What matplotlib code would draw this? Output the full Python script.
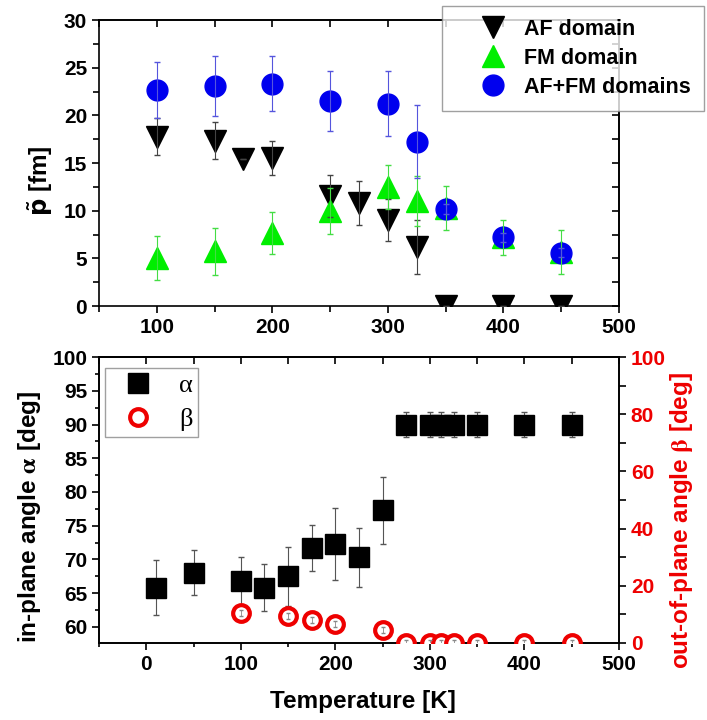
import numpy as np
import matplotlib.pyplot as plt
from matplotlib.ticker import MultipleLocator

plt.rcParams['font.family'] = ['Liberation Sans', 'DejaVu Sans']
plt.rcParams['font.weight'] = 'bold'
plt.rcParams['axes.labelweight'] = 'bold'
plt.rcParams['mathtext.fontset'] = 'stix'

# --- top panel: p~ [fm] vs temperature
t_af = [100, 150, 175, 200, 250, 275, 300, 325, 350, 400, 450]
p_af = [17.75, 17.35, 15.4, 15.5, 11.5, 10.8, 9.0, 6.2, 0, 0, 0]
e_af = [1.95, 1.95, 0, 1.8, 2.2, 2.3, 2.2, 2.8, 0, 0, 0]

t_fm = [100, 150, 200, 250, 300, 325, 350, 400, 450]
p_fm = [5.0, 5.75, 7.7, 10.0, 12.5, 11.0, 10.3, 7.2, 5.7]
e_fm = [2.3, 2.45, 2.2, 2.4, 2.3, 2.65, 2.3, 1.8, 2.3]

t_both = [100, 150, 200, 250, 300, 325, 350, 400, 450]
p_both = [22.65, 23.05, 23.35, 21.55, 21.25, 17.25, 10.2, 7.2, 5.6]
e_both = [2.95, 3.15, 2.85, 3.15, 3.45, 3.85, 0.5, 0.5, 0.5]

# --- bottom panel: angles vs temperature
t_a = [10, 50, 100, 125, 150, 175, 200, 225, 250, 275, 300, 312, 325, 350, 400, 450]
alpha = [65.8, 68.0, 66.8, 65.8, 67.5, 71.7, 72.3, 70.3, 77.25, 90, 90, 90, 90, 90, 90, 90]
e_alpha = [4.1, 3.35, 3.5, 3.5, 4.4, 3.4, 5.3, 4.4, 5.0, 1.9, 1.9, 1.9, 1.9, 1.9, 1.9, 1.9]

t_b = [100, 150, 175, 200, 250, 275, 300, 312, 325, 350, 400, 450]
beta = [10.5, 9.4, 8.0, 6.6, 4.5, 0, 0, 0, 0, 0, 0, 0]
e_beta = [1.0] * len(t_b)

fig = plt.figure(figsize=(7.07, 7.2), dpi=100)
ax1 = fig.add_axes([0.140, 0.575, 0.7355, 0.397])
ax2 = fig.add_axes([0.140, 0.107, 0.7355, 0.397])

lw = 1.2


def bold_ticks(ax):
    for lbl in ax.get_xticklabels() + ax.get_yticklabels():
        lbl.set_fontweight('bold')


# top
ax1.errorbar(t_af, p_af, yerr=e_af, fmt='none', ecolor='#444444', elinewidth=0.8, capsize=2.5, zorder=4)
ax1.errorbar(t_fm, p_fm, yerr=e_fm, fmt='none', ecolor='#44dd44', elinewidth=0.8, capsize=2.5, zorder=4)
ax1.errorbar(t_both, p_both, yerr=e_both, fmt='none', ecolor='#5555dd', elinewidth=0.8, capsize=2.5, zorder=4)
h1, = ax1.plot(t_af, p_af, 'v', color='black', ms=16, ls='none', label='AF domain', zorder=3)
h2, = ax1.plot(t_fm, p_fm, '^', color='#00ee00', ms=16, ls='none', label='FM domain', zorder=3)
h3, = ax1.plot(t_both, p_both, 'o', color='#0000ee', ms=15, ls='none', label='AF+FM domains', zorder=3)

ax1.set_xlim(50, 500)
ax1.set_ylim(0, 30)
ax1.xaxis.set_major_locator(MultipleLocator(100))
ax1.xaxis.set_minor_locator(MultipleLocator(50))
ax1.yaxis.set_major_locator(MultipleLocator(5))
ax1.yaxis.set_minor_locator(MultipleLocator(2.5))
ax1.tick_params(which='both', direction='out', width=lw, labelsize=15)
ax1.tick_params(which='major', length=5)
ax1.tick_params(which='minor', length=4)
bold_ticks(ax1)
for s in ax1.spines.values():
    s.set_linewidth(lw)
top1 = ax1.secondary_xaxis('top')
top1.xaxis.set_major_locator(MultipleLocator(50))
top1.tick_params(direction='in', labeltop=False, length=5, width=lw)
top1.spines['top'].set_linewidth(lw)
right1 = ax1.secondary_yaxis('right')
right1.yaxis.set_major_locator(MultipleLocator(2.5))
right1.tick_params(direction='in', labelright=False, length=5, width=lw)
right1.spines['right'].set_linewidth(lw)

ax1.set_ylabel(r'$\mathbf{\tilde{p}}$ [fm]', fontsize=17.5, math_fontfamily='dejavusans')
ax1.yaxis.set_label_coords(-0.085, 0.44)

leg1 = ax1.legend(handles=[h1, h2, h3], loc='upper left', bbox_to_anchor=(442 / 707, 1 - 6 / 720),
                  bbox_transform=fig.transFigure, borderaxespad=0, fancybox=False,
                  edgecolor='#888888', fontsize=15.5, handletextpad=-0.28, labelspacing=0.37,
                  borderpad=0.6, handlelength=3.5)
leg1.get_frame().set_linewidth(1.0)

# bottom
ax2.errorbar(t_a, alpha, yerr=e_alpha, fmt='none', ecolor='#555555', elinewidth=0.8, capsize=2.5, zorder=2)
ha, = ax2.plot(t_a, alpha, 's', color='black', ms=14, ls='none', label='α', zorder=3)
ax2.set_xlim(-50, 500)
ax2.set_ylim(57.6, 100)
ax2.xaxis.set_major_locator(MultipleLocator(100))
ax2.xaxis.set_minor_locator(MultipleLocator(50))
ax2.yaxis.set_major_locator(MultipleLocator(5))
ax2.yaxis.set_minor_locator(MultipleLocator(2.5))
ax2.tick_params(which='both', direction='out', width=lw, labelsize=15)
ax2.tick_params(which='major', length=5)
ax2.tick_params(which='minor', length=3)
bold_ticks(ax2)
for s in ax2.spines.values():
    s.set_linewidth(lw)
top2 = ax2.secondary_xaxis('top')
top2.xaxis.set_major_locator(MultipleLocator(50))
top2.tick_params(direction='in', labeltop=False, length=5, width=lw)
top2.spines['top'].set_linewidth(lw)

ax2.set_xlabel('Temperature [K]', fontsize=17.5)
ax2.xaxis.set_label_coords(0.507, -0.165)
ax2.set_ylabel(r'in-plane angle $\mathrm{\alpha}$ [deg]', fontsize=17.5)
ax2.yaxis.set_label_coords(-0.108, 0.44)

ax3 = ax2.twinx()
ax3.errorbar(t_b, beta, yerr=e_beta, fmt='none', ecolor='#888888', elinewidth=0.6, capsize=1.5, zorder=4)
hb, = ax3.plot(t_b, beta, 'o', mfc='white', mec='#ee0000', mew=3, ms=12, ls='none',
               label='β', zorder=3)
ax3.set_ylim(0, 100)
ax3.yaxis.set_major_locator(MultipleLocator(20))
ax3.yaxis.set_minor_locator(MultipleLocator(10))
ax3.tick_params(which='both', direction='out', width=lw, labelsize=15, labelcolor='#ee0000')
ax3.tick_params(which='major', length=5)
ax3.tick_params(which='minor', length=5)
bold_ticks(ax3)
for s in ax3.spines.values():
    s.set_linewidth(lw)
ax3.set_ylabel(r'out-of-plane angle $\mathrm{\beta}$ [deg]', fontsize=17.5, color='#ee0000')
ax3.yaxis.set_label_coords(1.094, 0.43)

leg2 = ax3.legend(handles=[ha, hb], loc='upper left', bbox_to_anchor=(0.0115, 0.9615),
                  borderaxespad=0, fancybox=False, edgecolor='#888888',
                  prop={'family': ['Liberation Serif', 'DejaVu Serif'], 'size': 19, 'weight': 'normal'},
                  handletextpad=0.5, labelspacing=0.42, borderpad=0.2, handlelength=2.1)
leg2.get_frame().set_linewidth(1.0)

fig.savefig('out.png', dpi=100)
